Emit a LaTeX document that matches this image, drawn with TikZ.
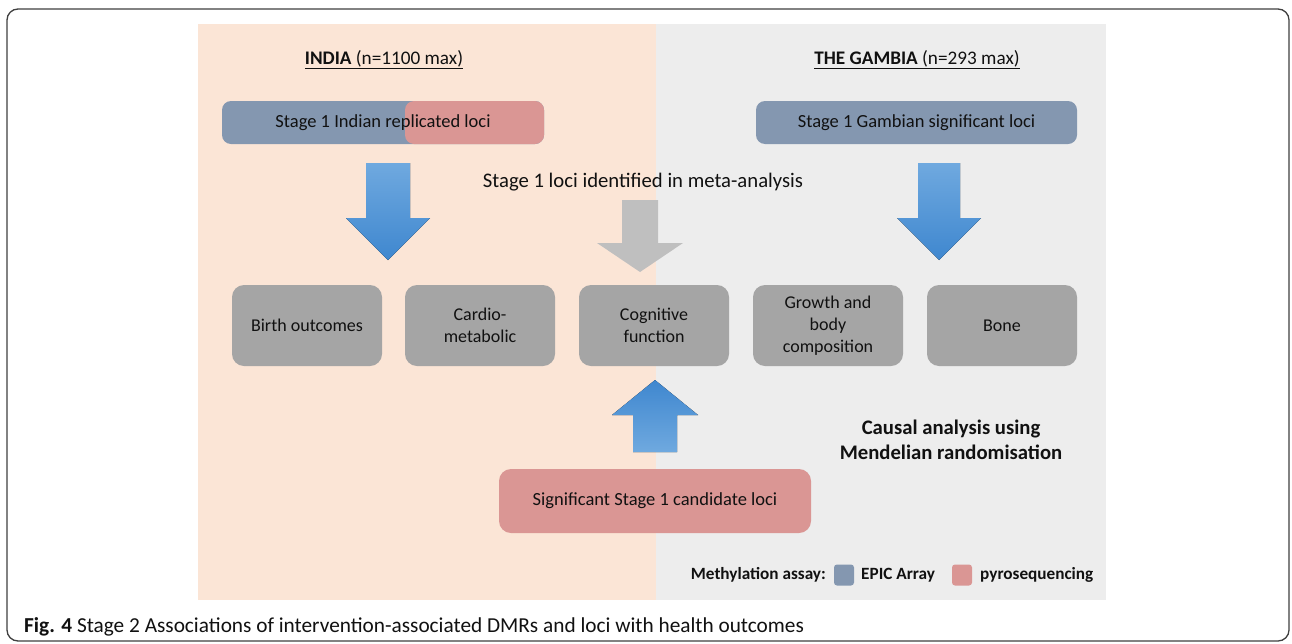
\documentclass[tikz,border=0pt]{standalone}
\usepackage{fontspec}
\setmainfont{Carlito}
\usetikzlibrary{calc}
\definecolor{peach}{HTML}{FBE5D6}
\definecolor{lgray}{HTML}{EDEDED}
\definecolor{bbox}{HTML}{8497B0}
\definecolor{pbox}{HTML}{DA9694}
\definecolor{gbox}{HTML}{A5A5A5}
\definecolor{atop}{HTML}{6FA9DF}
\definecolor{abot}{HTML}{3F87CF}
\definecolor{garr}{HTML}{BFBFBF}
\definecolor{txt}{HTML}{111111}
\tikzset{
  box/.style={rounded corners=9pt, minimum height=43pt, text=txt, font=\fontsize{18.5}{20}\selectfont, align=center, inner sep=0pt},
  outbox/.style={rounded corners=12pt, fill=gbox, minimum width=150pt, minimum height=81pt, text=txt, font=\fontsize{18}{22}\selectfont, align=center, inner sep=0pt},
  legtext/.style={text=txt, font=\bfseries\fontsize{17.2}{18}\selectfont, inner sep=0pt},
  bluearrow/.style={top color=atop, bottom color=abot, draw=none},
  upblue/.style={top color=abot, bottom color=atop, draw=none},
}
\begin{document}
\begin{tikzpicture}[x=1pt,y=-1pt]
\useasboundingbox (0,0) rectangle (1292,643);
\fill[white] (0,0) rectangle (1292,643);
% outer frame
\draw[rounded corners=11pt, line width=1.3pt, black!75] (7,9) rectangle (1289,641);
% panels
\fill[peach] (198,24) rectangle (656,600);
\fill[lgray] (656,24) rectangle (1106,600);
% titles
\node[text=txt, font=\fontsize{19.2}{21}\selectfont, anchor=base] (tind) at (384,64) {\underline{\textbf{INDIA} (n=1100 max)}};
\node[text=txt, font=\fontsize{19.2}{21}\selectfont, anchor=base] (tgam) at (917,64) {\underline{\textbf{THE GAMBIA} (n=293 max)}};
% stage 1 boxes
\fill[bbox, rounded corners=9pt] (222,101) rectangle (544,144);
\fill[pbox, rounded corners=9pt] (405,101) rectangle (544,144);
\node[box, minimum width=322pt] (sind) at (383,122.5) {Stage 1 Indian replicated loci};
\node[box, fill=bbox, minimum width=321pt] (sgam) at (916.5,122.5) {Stage 1 Gambian significant loci};
% meta
\node[text=txt, font=\fontsize{20.7}{22}\selectfont, inner sep=0pt] (meta) at (643,182) {Stage 1 loci identified in meta-analysis};
% outcome boxes
\node[outbox] (birth) at (307,325.5) {Birth outcomes};
\node[outbox] (cardio) at (480,325.5) {Cardio-\\metabolic};
\node[outbox] (cog) at (654,325.5) {Cognitive\\function};
\node[outbox] (growth) at (828,325.5) {Growth and\\body\\composition};
\node[outbox] (bone) at (1002,325.5) {Bone};
% candidate box
\node[box, fill=pbox, rounded corners=12pt, minimum width=312pt, minimum height=64pt] (cand) at (655,501) {Significant Stage 1 candidate loci};
% causal text
\node[text=txt, font=\bfseries\fontsize{20.7}{25}\selectfont, align=center] (causal) at (951,440) {Causal analysis using\\Mendelian randomisation};
% arrows
\coordinate (la) at (388,163);
\fill[bluearrow] ($(la)+(-22,0)$) -- ($(la)+(22,0)$) -- ($(la)+(22,55)$) -- ($(la)+(42,55)$) -- ($(la)+(0,97)$) -- ($(la)+(-42,55)$) -- ($(la)+(-22,55)$) -- cycle;
\coordinate (ra) at (939,163);
\fill[bluearrow] ($(ra)+(-21,0)$) -- ($(ra)+(21,0)$) -- ($(ra)+(21,55)$) -- ($(ra)+(42,55)$) -- ($(ra)+(0,97)$) -- ($(ra)+(-42,55)$) -- ($(ra)+(-21,55)$) -- cycle;
\coordinate (ga) at (640,200);
\fill[garr] ($(ga)+(-18,0)$) -- ($(ga)+(18,0)$) -- ($(ga)+(18,43)$) -- ($(ga)+(43,43)$) -- ($(ga)+(0,72)$) -- ($(ga)+(-43,43)$) -- ($(ga)+(-18,43)$) -- cycle;
\coordinate (ua) at (655,380);
\fill[upblue] ($(ua)+(0,0)$) -- ($(ua)+(43,35)$) -- ($(ua)+(22,35)$) -- ($(ua)+(22,72)$) -- ($(ua)+(-22,72)$) -- ($(ua)+(-22,35)$) -- ($(ua)+(-43,35)$) -- cycle;
% legend
\node[legtext, anchor=east] (leg) at (826,575) {Methylation assay:};
\node[fill=bbox, rounded corners=3pt, minimum width=20pt, minimum height=21pt, inner sep=0pt] (lb) at (844,575) {};
\node[legtext, anchor=west] (lbt) at (861,575) {EPIC Array};
\node[fill=pbox, rounded corners=3pt, minimum width=20pt, minimum height=21pt, inner sep=0pt] (lp) at (962,575) {};
\node[legtext, anchor=west] (lpt) at (980,575) {pyrosequencing};
% caption
\node[anchor=base west, inner sep=0pt, text=txt, font=\fontsize{21.3}{23}\selectfont] (cap) at (24,632) {\textbf{Fig. 4} Stage 2 Associations of intervention-associated DMRs and loci with health outcomes};
\end{tikzpicture}
\end{document}
